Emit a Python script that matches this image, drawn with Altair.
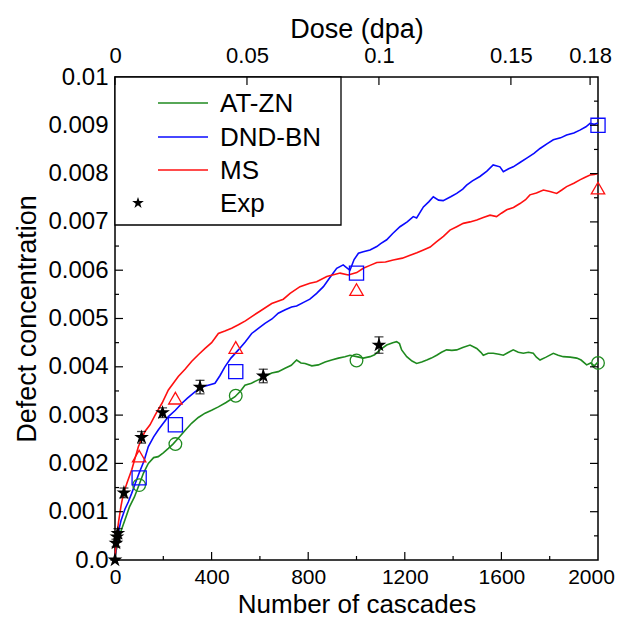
import altair as alt
import pandas as pd

# ---------------- data ----------------
AT_ZN_X = [0, 5, 15, 25, 41, 60, 80, 97, 118, 138, 160, 179, 200, 221, 240, 262, 290, 317, 345, 373,
           400, 428, 460, 497, 520, 538, 565, 593, 620, 649, 676, 704, 730, 752, 770, 787, 815, 842, 870, 897,
           925, 952, 973, 1001, 1028, 1056, 1075, 1097, 1125, 1150, 1166, 1178, 1187, 1208, 1230, 1249, 1270, 1291, 1310, 1332,
           1352, 1373, 1395, 1415, 1440, 1470, 1498, 1515, 1525, 1545, 1566, 1590, 1608, 1630, 1649, 1670, 1691, 1712, 1732, 1745,
           1760, 1785, 1815, 1835, 1856, 1885, 1912, 1930, 1953, 1970, 1985, 2000]
AT_ZN_Y = [0, 0.0002, 0.0004, 0.0006, 0.00083, 0.0011, 0.0013, 0.00152, 0.0018, 0.002, 0.00212, 0.00214, 0.00222, 0.00231, 0.0024, 0.00252, 0.00268, 0.00283, 0.00295, 0.00304,
           0.0031, 0.00317, 0.00326, 0.00338, 0.0035, 0.00362, 0.00366, 0.00373, 0.0038, 0.00387, 0.0039, 0.00397, 0.00403, 0.00414, 0.00408, 0.00407, 0.00402, 0.00404, 0.0041, 0.00414,
           0.00418, 0.00421, 0.00424, 0.00421, 0.00418, 0.00421, 0.00425, 0.00435, 0.00445, 0.0045, 0.00452, 0.00448, 0.00435, 0.00421, 0.00412, 0.00407, 0.0041, 0.00414, 0.00418, 0.00424,
           0.0043, 0.00435, 0.00434, 0.00435, 0.0044, 0.00445, 0.00438, 0.0043, 0.00424, 0.00428, 0.00428, 0.00426, 0.00424, 0.0043, 0.00435, 0.0043, 0.00428, 0.0043, 0.00428, 0.0042,
           0.00414, 0.0042, 0.00428, 0.00424, 0.00421, 0.0042, 0.00418, 0.00414, 0.00404, 0.00408, 0.00402, 0.0041]

DND_BN_X = [0, 5, 15, 25, 41, 55, 69, 85, 100, 120, 138, 160, 179, 200, 221, 250, 276, 300, 331, 360,
            386, 414, 435, 455, 480, 511, 540, 566, 595, 621, 650, 676, 705, 731, 752, 787, 807, 835, 863, 890,
            918, 945, 960, 973, 990, 1008, 1028, 1056, 1084, 1100, 1125, 1150, 1180, 1210, 1235, 1249, 1277, 1300, 1318, 1340,
            1359, 1390, 1415, 1440, 1456, 1480, 1511, 1540, 1566, 1594, 1608, 1630, 1649, 1680, 1705, 1735, 1760, 1790, 1815, 1845,
            1870, 1900, 1925, 1950, 1967, 1985, 2000]
DND_BN_Y = [0, 0.0003, 0.0006, 0.00082, 0.00105, 0.0012, 0.00138, 0.0016, 0.0018, 0.00205, 0.00235, 0.00255, 0.00269, 0.00283, 0.00297, 0.0031, 0.00324, 0.00335, 0.00348, 0.00358,
            0.00362, 0.00366, 0.00382, 0.004, 0.00418, 0.00435, 0.00452, 0.00469, 0.0048, 0.0049, 0.00499, 0.00511, 0.00518, 0.00524, 0.00526, 0.00535, 0.0054, 0.00552, 0.00566, 0.00585,
            0.00604, 0.00611, 0.00605, 0.006, 0.00622, 0.00635, 0.00638, 0.00642, 0.00649, 0.00655, 0.00663, 0.00676, 0.0069, 0.007, 0.00711, 0.00708, 0.00731, 0.00742, 0.00752, 0.00745,
            0.00744, 0.00752, 0.00759, 0.00768, 0.00776, 0.00785, 0.00794, 0.00805, 0.00818, 0.00814, 0.00804, 0.0081, 0.00814, 0.00824, 0.00832, 0.00842, 0.00852, 0.00862, 0.0087, 0.00874,
            0.0088, 0.00884, 0.0089, 0.00897, 0.00904, 0.00902, 0.00905]

MS_X = [0, 5, 15, 25, 35, 50, 70, 97, 110, 124, 145, 166, 195, 221, 240, 262, 290, 317, 345, 373,
        400, 428, 455, 483, 511, 540, 566, 600, 649, 697, 725, 766, 807, 835, 877, 932, 966, 1001, 1028, 1056,
        1084, 1120, 1152, 1190, 1222, 1250, 1277, 1305, 1332, 1360, 1387, 1415, 1442, 1470, 1498, 1525, 1553, 1580, 1600, 1622,
        1650, 1677, 1700, 1718, 1745, 1774, 1801, 1829, 1850, 1870, 1900, 1925, 1945, 1967, 1985, 2000]
MS_Y = [0, 0.0004, 0.0008, 0.00112, 0.00138, 0.0016, 0.00188, 0.00235, 0.0025, 0.00266, 0.0028, 0.003, 0.00325, 0.00352, 0.00365, 0.0038, 0.00395, 0.00411, 0.00425, 0.00438,
        0.0045, 0.00469, 0.00474, 0.0048, 0.00487, 0.00495, 0.00504, 0.00515, 0.00531, 0.0054, 0.00552, 0.00566, 0.00573, 0.00576, 0.00587, 0.00594, 0.0059, 0.00595, 0.00604, 0.0061,
        0.00616, 0.00617, 0.00621, 0.00625, 0.00631, 0.00636, 0.00642, 0.00648, 0.00659, 0.0067, 0.00683, 0.0069, 0.00697, 0.007, 0.00704, 0.00709, 0.00714, 0.00711, 0.00718, 0.00725,
        0.0073, 0.00738, 0.00746, 0.00756, 0.0076, 0.00766, 0.00763, 0.00759, 0.00766, 0.00773, 0.0078, 0.00787, 0.00792, 0.00797, 0.00798, 0.008]

MARK_X = [100, 250, 500, 1000, 2000]
AT_ZN_MARK_Y = [0.00155, 0.0024, 0.0034, 0.00413, 0.00408]
DND_BN_MARK_Y = [0.0017, 0.0028, 0.0039, 0.00594, 0.0090]
MS_MARK_Y = [0.00215, 0.00335, 0.0044, 0.0056, 0.0077]

EXP_X = [0, 4, 8, 12, 37, 110, 197, 352, 614, 1093]
EXP_Y = [0, 0.00035, 0.00048, 0.00055, 0.00139, 0.00254, 0.00305, 0.00358, 0.00381, 0.00445]
EXP_ERR = [0, 0.00008, 0.0001, 0.0001, 0.0001, 0.00012, 0.0001, 0.00014, 0.00014, 0.00017]

SERIES = ["AT-ZN", "DND-BN", "MS"]
COLORS = ["#1f8a1f", "#0a0aff", "#ff1010"]

X_LABELS = [0, 400, 800, 1200, 1600, 2000]
X_MINOR = [200, 600, 1000, 1400, 1800]
Y_LABELS = [0.0, 0.001, 0.002, 0.003, 0.004, 0.005, 0.006, 0.007, 0.008, 0.009, 0.01]
Y_MINOR = [0.0005, 0.0015, 0.0025, 0.0035, 0.0045, 0.0055, 0.0065, 0.0075, 0.0085, 0.0095]
DOSE_LABELS = [0, 0.05, 0.1, 0.15, 0.18]
DOSE_MAX = 0.183

# ---------------- layout / style ----------------
W = 483
H = 483
FONT = "Liberation Sans"
STAR = ("M0,-1L0.2245,-0.309L0.951,-0.309L0.363,0.118L0.588,0.809L0,0.382"
        "L-0.588,0.809L-0.363,0.118L-0.951,-0.309L-0.2245,-0.309Z")

XS = alt.Scale(domain=[0, 2000], nice=False, zero=False)
YS = alt.Scale(domain=[0, 0.01], nice=False, zero=False)
AX_X = alt.Axis(values=X_LABELS, format="d", title="Number of cascades",
                labelFlush=False, labelPadding=6, titlePadding=4, labelFontSize=21,
                titleFontSize=26,
                labelOffset={"condition": {"test": "datum.value == 2000", "value": -7}, "value": 0})
AX_Y = alt.Axis(values=Y_LABELS, title="Defect concentration",
                labelExpr="datum.value == 0 ? '0.0' : format(datum.value, '.3~f')",
                labelPadding=7, titlePadding=6, labelFontSize=24)


def X(field="c"):
    return alt.X(f"{field}:Q", scale=XS, axis=AX_X)


def Y(field="v"):
    return alt.Y(f"{field}:Q", scale=YS, axis=AX_Y)


# curves
frames = []
for name, xs, ys in [("AT-ZN", AT_ZN_X, AT_ZN_Y), ("DND-BN", DND_BN_X, DND_BN_Y), ("MS", MS_X, MS_Y)]:
    frames.append(pd.DataFrame({"c": xs, "v": ys, "series": name}))
curves_df = pd.concat(frames, ignore_index=True)

curves = alt.Chart(curves_df).mark_line(strokeWidth=1.6).encode(
    x=X(), y=Y(),
    color=alt.Color("series:N", scale=alt.Scale(domain=SERIES, range=COLORS), legend=None),
)

layers = [curves]

# open markers
for name, ys, col, shp, sz in [("AT-ZN", AT_ZN_MARK_Y, COLORS[0], "circle", 160),
                               ("DND-BN", DND_BN_MARK_Y, COLORS[1], "square", 200),
                               ("MS", MS_MARK_Y, COLORS[2], "triangle-up", 180)]:
    mdf = pd.DataFrame({"c": MARK_X, "v": ys})
    layers.append(alt.Chart(mdf).mark_point(shape=shp, filled=False, color=col, size=sz,
                                            strokeWidth=1.3, opacity=1).encode(x=X(), y=Y()))

# experiment with error bars
exp_df = pd.DataFrame({"c": EXP_X, "v": EXP_Y, "err": EXP_ERR})
exp_df["lo"] = exp_df["v"] - exp_df["err"]
exp_df["hi"] = exp_df["v"] + exp_df["err"]
layers.append(alt.Chart(exp_df).mark_rule(color="black", strokeWidth=1.2).encode(
    x=X(), y=Y("lo"), y2="hi:Q"))
for f in ["lo", "hi"]:
    layers.append(alt.Chart(exp_df).mark_tick(orient="horizontal", size=9, thickness=1.3,
                                              color="black").encode(x=X(), y=Y(f)))
layers.append(alt.Chart(exp_df).mark_point(shape=STAR, filled=True, color="black", size=240,
                                           opacity=1).encode(x=X(), y=Y()))

# inward ticks on the frame
for vals, ln in [(X_LABELS[1:-1], 8), (X_MINOR, 4)]:
    tdf = pd.DataFrame({"c": vals})
    layers.append(alt.Chart(tdf).mark_rule(color="black", strokeWidth=1.2).encode(
        x=X(), y=alt.value(H), y2=alt.value(H - ln)))
for vals, ln in [(Y_LABELS[1:-1], 8), (Y_MINOR, 4)]:
    tdf = pd.DataFrame({"v": vals})
    layers.append(alt.Chart(tdf).mark_rule(color="black", strokeWidth=1.2).encode(
        y=Y(), x=alt.value(0), x2=alt.value(ln)))
    layers.append(alt.Chart(tdf).mark_rule(color="black", strokeWidth=1.2).encode(
        y=Y(), x=alt.value(W - ln), x2=alt.value(W)))

# legend (drawn as a box in the top-left corner)
one = pd.DataFrame({"k": [0]})
LEG_W, LEG_H = 226, 148
LEG_ROWS = [26, 60, 93, 126]
layers.append(alt.Chart(one).mark_rect(fill="white", stroke="black", strokeWidth=1.3).encode(
    x=alt.value(0), x2=alt.value(LEG_W), y=alt.value(0), y2=alt.value(LEG_H)))
for name, col, yy in zip(SERIES, COLORS, LEG_ROWS[:3]):
    layers.append(alt.Chart(one).mark_rule(color=col, strokeWidth=1.5).encode(
        x=alt.value(43), x2=alt.value(93), y=alt.value(yy)))
for name, yy in zip(SERIES + ["Exp"], LEG_ROWS):
    layers.append(alt.Chart(one).mark_text(text=name, font=FONT, fontSize=26, align="left",
                                           baseline="middle", color="black").encode(
        x=alt.value(105), y=alt.value(yy + 1)))
layers.append(alt.Chart(one).mark_point(shape=STAR, filled=True, color="black", size=150,
                                        opacity=1).encode(x=alt.value(23), y=alt.value(LEG_ROWS[3])))

inner = alt.layer(*layers)

# top dose axis
dose_df = pd.DataFrame({"dose": DOSE_LABELS})
dose = alt.Chart(dose_df).mark_rule(color="black", strokeWidth=1.2).encode(
    x=alt.X("dose:Q", scale=alt.Scale(domain=[0, DOSE_MAX], nice=False, zero=False),
            axis=alt.Axis(orient="top", values=DOSE_LABELS, title="Dose (dpa)",
                          labelExpr="format(datum.value, '~g')", labelFlush=False,
                          labelPadding=10, titlePadding=1, labelFontSize=22)),
    y=alt.value(0), y2=alt.value(8),
)

chart = alt.layer(inner, dose).resolve_scale(x="independent").properties(
    width=W, height=H,
    autosize=alt.AutoSizeParams(type="none"),
    padding={"left": 107, "top": 69, "right": 18, "bottom": 58},
).configure_view(stroke="black", strokeWidth=1.5).configure_axis(
    ticks=False, domain=False, grid=False,
    labelFont=FONT, labelColor="black",
    titleFont=FONT, titleFontSize=27, titleFontWeight="normal", titleColor="black",
)

chart.save("out.html", embed_options={"renderer": "svg", "actions": False})
